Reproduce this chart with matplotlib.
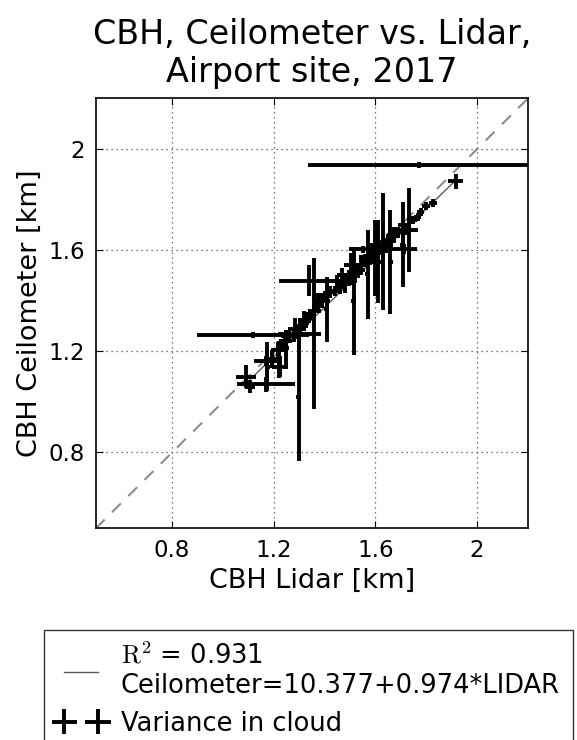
import numpy as np
import matplotlib
matplotlib.use('Agg')
import matplotlib.pyplot as plt

plt.rcParams['mathtext.fontset'] = 'cm'

# CBH lidar (x), ceilometer (y) and their spreads, km
lidar = [1.092, 1.105, 1.170, 1.118, 1.175, 1.170, 1.192, 1.220, 1.215, 1.235,
         1.245, 1.250, 1.260, 1.280, 1.298, 1.300, 1.305, 1.320, 1.330, 1.357,
         1.337, 1.345, 1.360, 1.375, 1.390, 1.408, 1.400, 1.420, 1.440, 1.450,
         1.460, 1.480, 1.495, 1.515, 1.550, 1.530, 1.545, 1.569, 1.560, 1.580,
         1.595, 1.610, 1.631, 1.600, 1.615, 1.640, 1.659, 1.650, 1.672, 1.690,
         1.708, 1.714, 1.720, 1.733, 1.710, 1.747, 1.766, 1.778, 1.800, 1.826,
         1.773, 1.915, 1.470, 1.520, 1.585, 1.225, 1.285, 1.505]
ceilo = [1.100, 1.060, 1.070, 1.263, 1.140, 1.162, 1.170, 1.167, 1.205, 1.225,
         1.240, 1.215, 1.260, 1.265, 1.020, 1.270, 1.300, 1.320, 1.330, 1.270,
         1.480, 1.345, 1.360, 1.390, 1.400, 1.366, 1.420, 1.435, 1.440, 1.480,
         1.455, 1.470, 1.490, 1.400, 1.603, 1.520, 1.540, 1.505, 1.560, 1.570,
         1.585, 1.555, 1.596, 1.570, 1.610, 1.620, 1.553, 1.640, 1.660, 1.670,
         1.622, 1.603, 1.680, 1.681, 1.700, 1.720, 1.730, 1.752, 1.775, 1.787,
         1.935, 1.872, 1.500, 1.500, 1.600, 1.140, 1.290, 1.540]
lidar_err = [0.040, 0.020, 0.115, 0.220, 0.010, 0.048, 0.030, 0.010, 0.025, 0.020,
             0.025, 0.012, 0.030, 0.020, 0.010, 0.085, 0.030, 0.025, 0.020, 0.010,
             0.118, 0.020, 0.025, 0.020, 0.030, 0.010, 0.020, 0.020, 0.025, 0.060,
             0.020, 0.030, 0.020, 0.010, 0.055, 0.030, 0.020, 0.010, 0.025, 0.020,
             0.020, 0.010, 0.010, 0.010, 0.020, 0.030, 0.010, 0.020, 0.025, 0.020,
             0.010, 0.050, 0.048, 0.010, 0.020, 0.015, 0.015, 0.015, 0.015, 0.015,
             0.440, 0.028, 0.020, 0.015, 0.020, 0.030, 0.030, 0.030]
ceilo_err = [0.045, 0.025, 0.030, 0.012, 0.095, 0.020, 0.035, 0.073, 0.030, 0.025,
             0.020, 0.070, 0.020, 0.030, 0.255, 0.020, 0.030, 0.040, 0.025, 0.300,
             0.060, 0.020, 0.030, 0.040, 0.030, 0.128, 0.020, 0.025, 0.020, 0.020,
             0.030, 0.040, 0.030, 0.214, 0.015, 0.030, 0.040, 0.176, 0.025, 0.030,
             0.040, 0.165, 0.231, 0.150, 0.030, 0.030, 0.207, 0.025, 0.030, 0.020,
             0.168, 0.020, 0.020, 0.166, 0.020, 0.015, 0.015, 0.015, 0.015, 0.015,
             0.012, 0.030, 0.030, 0.030, 0.030, 0.040, 0.040, 0.050]

r2 = 0.931
intercept = 10.377   # m
slope = 0.974

fig = plt.figure(figsize=(5.77, 7.4), dpi=100)
ax = fig.add_axes([0.166, 0.286, 0.749, 0.581])

lims = [0.5, 2.2]
ax.plot(lims, lims, '--', color='0.55', lw=1.5, dashes=(6, 5))

xfit = np.array([min(lidar), max(lidar)])
fit_line, = ax.plot(xfit, intercept / 1000. + slope * xfit, '-', color='0.35', lw=1,
                    label='$\\mathrm{R}^2$ = %.3f\nCeilometer=%.3f+%.3f*LIDAR' % (r2, intercept, slope))

eb = ax.errorbar(lidar, ceilo, xerr=lidar_err, yerr=ceilo_err, fmt='none',
                 ecolor='k', elinewidth=2.8, capsize=0, label='Variance in cloud')

ax.set_xlim(lims)
ax.set_ylim(lims)
ax.set_xticks([0.8, 1.2, 1.6, 2.0])
ax.set_yticks([0.8, 1.2, 1.6, 2.0])
ax.set_xticklabels(['0.8', '1.2', '1.6', '2'])
ax.set_yticklabels(['0.8', '1.2', '1.6', '2'])
ax.tick_params(direction='in', top=True, right=True, length=5, labelsize=16.5, pad=8)
ax.grid(True, linestyle=(0, (1, 3)), color='0.3', lw=0.9)
for s in ax.spines.values():
    s.set_linewidth(1.2)

ax.set_xlabel('CBH Lidar [km]', fontsize=19.5, labelpad=4)
ax.set_ylabel('CBH Ceilometer [km]', fontsize=19.5, labelpad=4)
ax.set_title('CBH, Ceilometer vs. Lidar,\nAirport site, 2017', fontsize=24, pad=12)

leg = fig.legend(handles=[fit_line, eb], loc='upper left', bbox_to_anchor=(0.076, 0.149),
                 fontsize=18.5, numpoints=2, fancybox=False, edgecolor='k',
                 handlelength=1.9, handletextpad=0.6, borderaxespad=0,
                 borderpad=0.5, labelspacing=0.45)
leg.get_frame().set_linewidth(1)

fig.savefig('out.png', dpi=100)
